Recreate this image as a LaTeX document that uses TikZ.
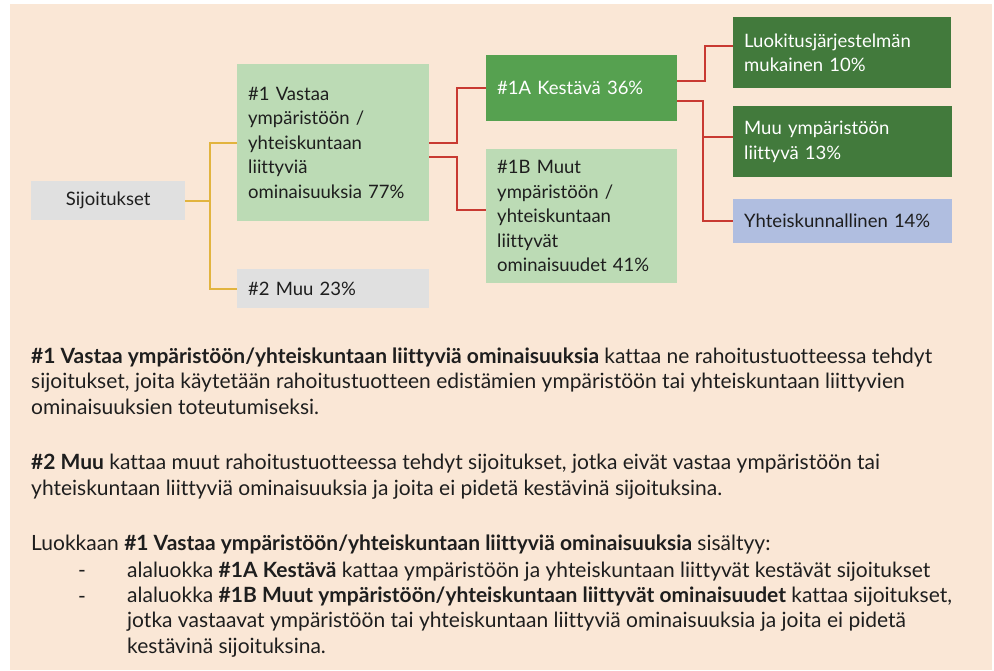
\documentclass[tikz,border=0pt]{standalone}
\usepackage{fontspec}
\setmainfont{Lato}[Ligatures=NoCommon]
\usepackage{tikz}
\usetikzlibrary{positioning,calc}
\definecolor{peach}{RGB}{250,231,214}
\definecolor{boxgray}{RGB}{224,224,224}
\definecolor{boxlight}{RGB}{188,219,181}
\definecolor{boxmid}{RGB}{86,161,80}
\definecolor{boxdark}{RGB}{66,122,60}
\definecolor{boxblue}{RGB}{176,190,224}
\definecolor{lineyellow}{RGB}{226,180,62}
\definecolor{linered}{RGB}{200,58,50}
\definecolor{cText}{RGB}{30,30,30}
\tikzset{
  basebox/.style={rectangle,anchor=north west,inner xsep=11pt,inner ysep=0pt,align=left,
    text=cText,font=\fontsize{18.5}{24.5}\selectfont},
  graynode/.style={basebox,fill=boxgray},
  lightnode/.style={basebox,fill=boxlight},
  midnode/.style={basebox,fill=boxmid,text=white},
  darknode/.style={basebox,fill=boxdark,text=white},
  socnode/.style={basebox,fill=boxblue},
  yelarr/.style={line width=2pt,color=lineyellow},
  redarr/.style={line width=2pt,color=linered},
  bodytext/.style={anchor=base west,inner sep=0pt,align=left,text=cText,
    font=\fontsize{21}{25.5}\selectfont}
}

\begin{document}
\begin{tikzpicture}[x=1pt,y=-1pt]
  \useasboundingbox (0,0) rectangle (994,671);
  \fill[peach] (10,4) rectangle (992,670);

  \node[graynode,text width=132pt,minimum height=39pt,align=center] (sij) at (31,181) {Sijoitukset};
  \node[lightnode,text width=170pt,minimum height=157pt] (omin) at (237,64)
    {\#1 Vastaa\\ympäristöön /\\yhteiskuntaan\\liittyviä\\ominaisuuksia 77\%};
  \node[graynode,text width=170pt,minimum height=39pt] (muu) at (237,269) {\#2 Muu 23\%};

  \node[midnode,text width=169pt,minimum height=66pt] (kest) at (486,55) {\#1A Kestävä 36\%};
  \node[lightnode,text width=169pt,minimum height=134pt] (muut) at (486,149)
    {\#1B Muut\\ympäristöön /\\yhteiskuntaan\\liittyvät\\ominaisuudet 41\%};

  \node[darknode,text width=196pt,minimum height=71pt] (luok) at (733,17)
    {Luokitusjärjestelmän\\mukainen 10\%};
  \node[darknode,text width=197pt,minimum height=71pt] (ymp) at (733,106)
    {Muu ympäristöön\\liittyvä 13\%};
  \node[socnode,text width=197pt,minimum height=44pt] (yht) at (733,199)
    {Yhteiskunnallinen 14\%};

  \coordinate (ympin) at ([yshift=4.5pt]ymp.west);
  \draw[yelarr] (sij.east) -- ++(25,0) |- (omin.west);
  \draw[yelarr] (sij.east) -- ++(25,0) |- (muu.west);
  \draw[redarr] (omin.east) -- ++(28,0) |- (kest.west);
  \draw[redarr] ([yshift=-14pt]omin.east) -- ++(28,0) |- ([yshift=6pt]muut.west);
  \draw[redarr] ([yshift=7pt]kest.east) -- ++(28,0) |- ([yshift=7pt]luok.west);
  \draw[redarr] ([yshift=-13pt]kest.east) -- ++(26,0) coordinate (haara) |- (yht.west);
  \draw[redarr] (haara |- ympin) -- (ympin);

  \node[bodytext] (kuvaus1) at (31,414)
    {\textbf{\#1 Vastaa ympäristöön/yhteiskuntaan liittyviä ominaisuuksia} kattaa ne rahoitustuotteessa tehdyt\\
     sijoitukset, joita käytetään rahoitustuotteen edistämien ympäristöön tai yhteiskuntaan liittyvien\\
     ominaisuuksien toteutumiseksi.};
  \node[bodytext] (kuvaus2) at (31,495)
    {\textbf{\#2 Muu} kattaa muut rahoitustuotteessa tehdyt sijoitukset, jotka eivät vastaa ympäristöön tai\\
     yhteiskuntaan liittyviä ominaisuuksia ja joita ei pidetä kestävinä sijoituksina.};
  \node[bodytext] (kuvaus3) at (31,550)
    {Luokkaan \textbf{\#1 Vastaa ympäristöön/yhteiskuntaan liittyviä ominaisuuksia} sisältyy:};
  \node[bodytext] (viiva1) at (78,577) {-};
  \node[bodytext] (kohta1) at (127,577)
    {alaluokka \textbf{\#1A Kestävä} kattaa ympäristöön ja yhteiskuntaan liittyvät kestävät sijoitukset};
  \node[bodytext] (viiva2) at (78,603) {-};
  \node[bodytext] (kohta2) at (127,653)
    {alaluokka \textbf{\#1B Muut ympäristöön/yhteiskuntaan liittyvät ominaisuudet} kattaa sijoitukset,\\
     jotka vastaavat ympäristöön tai yhteiskuntaan liittyviä ominaisuuksia ja joita ei pidetä\\
     kestävinä sijoituksina.};
\end{tikzpicture}
\end{document}
